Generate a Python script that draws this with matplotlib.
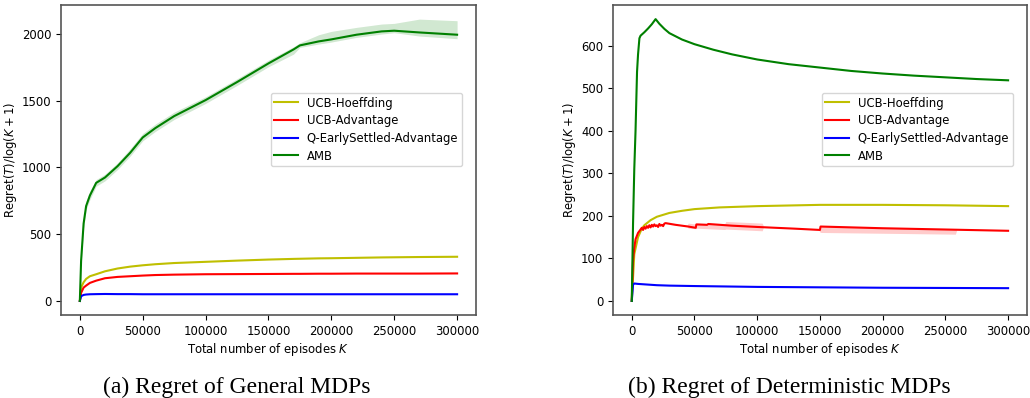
import numpy as np
import matplotlib.pyplot as plt

# (a) General MDPs
xa = [0, 1000, 3000, 5000, 8000, 13000, 20000, 30000, 40000, 50000, 60000, 75000,
      100000, 125000, 150000, 170000, 175000, 190000, 200000, 220000, 240000, 250000,
      270000, 300000]
amb_a = [0, 300, 580, 711, 790, 885, 925, 1010, 1110, 1225, 1295, 1385, 1505, 1640,
         1780, 1885, 1915, 1945, 1960, 1995, 2020, 2025, 2012, 1995]
amb_a_hi = [0, 320, 615, 750, 825, 910, 950, 1035, 1140, 1255, 1325, 1415, 1530, 1665,
            1805, 1905, 1935, 1995, 2020, 2050, 2075, 2080, 2112, 2100]
amb_a_lo = [0, 280, 545, 685, 760, 860, 900, 985, 1085, 1200, 1270, 1360, 1480, 1615,
            1755, 1850, 1900, 1925, 1940, 1975, 2000, 2010, 1985, 1965]
hoef_a = [0, 100, 140, 165, 185, 200, 222, 243, 257, 267, 275, 284, 293, 302, 310,
          315, 316, 319, 320, 323, 326, 327, 329, 331]
adv_a = [0, 60, 100, 115, 135, 152, 170, 180, 185, 190, 194, 197, 200, 201, 202, 203,
         203, 204, 204, 205, 205, 205, 205, 206]
qes_a = [0, 35, 45, 48, 50, 51, 52, 51, 51, 50, 50, 50, 50, 50, 50, 50, 50, 50, 50,
         50, 50, 50, 50, 50]

# (b) Deterministic MDPs
xg_b = [0, 500, 1000, 2000, 3000, 4200, 5000, 6100, 7000, 10000, 13000, 16000, 19000,
        22000, 26000, 30000, 40000, 50000, 65000, 80000, 100000, 125000, 150000,
        175000, 200000, 225000, 250000, 275000, 300000]
amb_b = [0, 90, 180, 310, 400, 539, 580, 618, 624, 632, 641, 651, 663, 652, 640, 630,
         615, 604, 591, 580, 568, 557, 549, 541, 535, 530, 526, 522, 519]

xy_b = [0, 2000, 5000, 8000, 10000, 15000, 20000, 30000, 40000, 50000, 70000, 100000,
        150000, 200000, 250000, 300000]
hoef_b = [0, 110, 150, 170, 178, 190, 198, 207, 212, 216, 220, 223, 226, 226, 225, 223]

xr_b = [0, 1000, 2000, 3000, 5000, 7000, 8000, 9000, 10000, 11000, 12000, 13000, 14000,
        15000, 16000, 17000, 18000, 19000, 20000, 21000, 22000, 23000, 24000, 25000,
        26000, 27000, 35000, 45000, 51000, 51500, 60000, 61000, 80000, 100000, 130000,
        150000, 150500, 200000, 250000, 300000]
adv_b = [0, 95, 125, 145, 160, 168, 172, 167, 174, 170, 176, 172, 178, 173, 179, 175,
         180, 176, 178, 174, 181, 177, 179, 176, 182, 183, 179, 175, 172, 180, 179, 181,
         177, 174, 170, 167, 175, 171, 168, 165]
xband_b = [30000, 44000, 45000, 51000, 52000, 74000, 75000, 104000, 105000, 149000,
           150000, 151000, 258000, 259000, 300000]
adv_b_hi = [180, 178, 183, 181, 183, 181, 187, 183, 176, 168, 168, 176, 169, 166, 165]
adv_b_lo = [180, 176, 171, 170, 171, 168, 169, 165, 174, 167, 162, 161, 157, 166, 165]

xq_b = [0, 1000, 2000, 5000, 10000, 20000, 30000, 50000, 75000, 100000, 150000,
        200000, 250000, 300000]
qes_b = [0, 38, 41, 40, 39, 37, 36, 35, 34, 33, 32, 31, 30.5, 30]

labels = ['UCB-Hoeffding', 'UCB-Advantage', 'Q-EarlySettled-Advantage', 'AMB']

plt.rcParams['font.size'] = 8.4

fig = plt.figure(figsize=(10.3, 3.98), dpi=100)
ax1 = fig.add_axes([0.0592, 0.2085, 0.4029, 0.7789])
ax2 = fig.add_axes([0.5951, 0.2085, 0.4019, 0.7789])

lw = 1.5
ax1.fill_between(xa, amb_a_lo, amb_a_hi, color='g', alpha=0.18, linewidth=0)
ax1.plot(xa, hoef_a, color='y', lw=lw, label=labels[0])
ax1.plot(xa, adv_a, color='r', lw=lw, label=labels[1])
ax1.plot(xa, qes_a, color='b', lw=lw, label=labels[2])
ax1.plot(xa, amb_a, color='g', lw=lw, label=labels[3])

ax2.fill_between(xband_b, adv_b_lo, adv_b_hi, color='r', alpha=0.2, linewidth=0)
ax2.plot(xy_b, hoef_b, color='y', lw=lw, label=labels[0])
ax2.plot(xr_b, adv_b, color='r', lw=lw, label=labels[1])
ax2.plot(xq_b, qes_b, color='b', lw=lw, label=labels[2])
ax2.plot(xg_b, amb_b, color='g', lw=lw, label=labels[3])

ax1.set_yticks([0, 500, 1000, 1500, 2000])
ax2.set_yticks([0, 100, 200, 300, 400, 500, 600])

for ax in (ax1, ax2):
    ax.set_xticks([0, 50000, 100000, 150000, 200000, 250000, 300000])
    ax.set_xlabel(r'Total number of episodes $K$', labelpad=2)
    ax.set_ylabel(r'Regret$(T)/\log(K+1)$', labelpad=2)
    for s in ax.spines.values():
        s.set_color('#555555')
        s.set_linewidth(1.2)
    ax.legend(loc='upper right', bbox_to_anchor=(0.966, 0.716), borderaxespad=0,
              fontsize=8.4, labelspacing=0.4, borderpad=0.3)

fig.text(237 / 1030, 1 - 387 / 398, '(a) Regret of General MDPs', ha='center',
         va='center', family='Liberation Serif', fontsize=17)
fig.text(789 / 1030, 1 - 387 / 398, '(b) Regret of Deterministic MDPs', ha='center',
         va='center', family='Liberation Serif', fontsize=17)

fig.savefig('out.png', dpi=100)
